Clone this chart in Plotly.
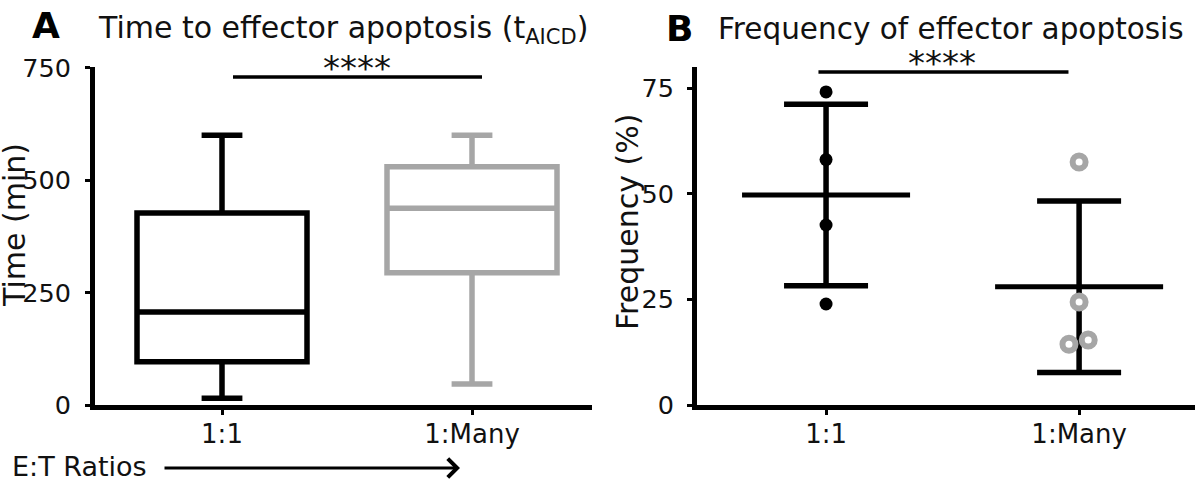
import plotly.graph_objects as go

# ---------------- data ----------------
categories = ["1:1", "1:Many"]

# Panel A: box summary (Time, min)
box_q1 = [96, 294]
box_median = [207, 438]
box_q3 = [427, 530]
box_low = [15, 47]
box_high = [600, 600]

# Panel B: frequency (%) per replicate
freq_11 = [74.1, 58.1, 42.6, 23.9]
freq_many = [57.5, 24.4, 14.4, 15.4]
jitter_many = [0.0, 0.0, -0.04, 0.036]
freq_mean = [49.7, 28.0]
freq_sd = [21.5, 20.3]

y_ticks_a = [0, 250, 500, 750]
y_ticks_b = [0, 25, 50, 75]
sig_label = "****"

# ---------------- style ----------------
FONT = "DejaVu Sans"
BLACK = "#000000"
TXT = "#111111"
GREY = "#a6a6a6"
colors = [BLACK, GREY]

W, H = 1200, 480


def px(x):
    return x / W


def py(y):
    return 1 - y / H


fig = go.Figure()

# Panel A boxes
for i, c in enumerate(categories):
    fig.add_trace(go.Box(
        x=[i], q1=[box_q1[i]], median=[box_median[i]], q3=[box_q3[i]],
        lowerfence=[box_low[i]], upperfence=[box_high[i]],
        width=0.68, whiskerwidth=0.24, boxpoints=False,
        line=dict(color=colors[i], width=5.5), fillcolor="white",
        xaxis="x", yaxis="y", showlegend=False, hoverinfo="skip",
    ))

# Panel B: mean lines + SD error bars
for i in range(2):
    fig.add_trace(go.Scatter(
        x=[i - 0.332, i + 0.332], y=[freq_mean[i], freq_mean[i]],
        mode="lines", line=dict(color=BLACK, width=5),
        xaxis="x2", yaxis="y2", showlegend=False, hoverinfo="skip",
    ))
    fig.add_trace(go.Scatter(
        x=[i], y=[freq_mean[i]], mode="lines",
        line=dict(color=BLACK, width=0),
        error_y=dict(type="data", array=[freq_sd[i]], visible=True,
                     width=42, thickness=5.5, color=BLACK),
        xaxis="x2", yaxis="y2", showlegend=False, hoverinfo="skip",
    ))

# Panel B points
fig.add_trace(go.Scatter(
    x=[0] * len(freq_11), y=freq_11, mode="markers",
    marker=dict(color=BLACK, size=13),
    xaxis="x2", yaxis="y2", showlegend=False, hoverinfo="skip",
))
fig.add_trace(go.Scatter(
    x=[1 + j for j in jitter_many], y=freq_many, mode="markers",
    marker=dict(color="white", size=13, line=dict(color=GREY, width=6)),
    xaxis="x2", yaxis="y2", showlegend=False, hoverinfo="skip",
))

axis_common = dict(
    showline=True, linewidth=5, linecolor=BLACK, ticks="outside",
    ticklen=5, tickwidth=3, tickcolor=BLACK, showgrid=False, zeroline=False,
    automargin=False,
)
xtickfont = dict(family=FONT, size=26, color=TXT)
ytickfont = dict(family=FONT, size=25.5, color=TXT)

y_dom = [py(405), py(67)]

fig.update_layout(
    template="none",
    width=W, height=H,
    margin=dict(l=0, r=0, t=0, b=0, pad=0),
    paper_bgcolor="white", plot_bgcolor="white",
    xaxis=dict(domain=[px(95), px(592)], range=[-0.508, 1.48],
               tickvals=[0, 1], ticktext=categories, anchor="y",
               ticklabelstandoff=-3, tickfont=xtickfont, **axis_common),
    yaxis=dict(domain=y_dom, range=[0, 752],
               tickvals=y_ticks_a, anchor="x", ticklabelstandoff=9,
               tickfont=ytickfont, **axis_common),
    xaxis2=dict(domain=[px(697), px(1195)], range=[-0.51, 1.458],
                tickvals=[0, 1], ticktext=categories, anchor="y2",
                ticklabelstandoff=-3, tickfont=xtickfont, **axis_common),
    yaxis2=dict(domain=y_dom, range=[0, 80],
                tickvals=y_ticks_b, anchor="x2", ticklabelstandoff=8,
                tickfont=ytickfont, **axis_common),
    font=dict(family=FONT, color=TXT),
    showlegend=False,
)

# y-axis titles
fig.add_annotation(xref="paper", yref="paper", x=px(14), y=py(225),
                   text="Time (min)", textangle=-90, showarrow=False,
                   xanchor="center", yanchor="middle",
                   font=dict(family=FONT, size=30, color=TXT))
fig.add_annotation(xref="paper", yref="paper", x=px(627), y=py(222),
                   text="Frequency (%)", textangle=-90, showarrow=False,
                   xanchor="center", yanchor="middle",
                   font=dict(family=FONT, size=30, color=TXT))

# significance bars
fig.add_shape(type="line", xref="x", yref="y", x0=0.044, x1=1.04, y0=730, y1=730,
              line=dict(color=BLACK, width=3.5))
fig.add_annotation(xref="x", yref="y", x=0.54, y=730, text=sig_label, showarrow=False,
                   yanchor="middle", yshift=9, font=dict(family=FONT, size=34, color=TXT))
fig.add_shape(type="line", xref="x2", yref="y2", x0=-0.03, x1=0.958, y0=78.8, y1=78.8,
              line=dict(color=BLACK, width=3.5))
fig.add_annotation(xref="x2", yref="y2", x=0.46, y=78.8, text=sig_label, showarrow=False,
                   yanchor="middle", yshift=9, font=dict(family=FONT, size=34, color=TXT))

# panel letters and titles
fig.add_annotation(xref="paper", yref="paper", x=px(30), y=py(25), text="<b>A</b>",
                   showarrow=False, xanchor="left", yanchor="middle",
                   font=dict(family=FONT, size=36, color=BLACK))
fig.add_annotation(xref="paper", yref="paper", x=px(96), y=py(29),
                   text="Time to effector apoptosis (t<sub>AICD</sub>)",
                   showarrow=False, xanchor="left", yanchor="middle",
                   font=dict(family=FONT, size=30, color=TXT))
fig.add_annotation(xref="paper", yref="paper", x=px(664), y=py(28), text="<b>B</b>",
                   showarrow=False, xanchor="left", yanchor="middle",
                   font=dict(family=FONT, size=36, color=BLACK))
fig.add_annotation(xref="paper", yref="paper", x=px(716), y=py(29),
                   text="Frequency of effector apoptosis",
                   showarrow=False, xanchor="left", yanchor="middle",
                   font=dict(family=FONT, size=29.5, color=TXT))

# E:T ratios arrow
fig.add_annotation(xref="paper", yref="paper", x=px(10), y=py(466),
                   text="E:T Ratios", showarrow=False, xanchor="left", yanchor="middle",
                   font=dict(family=FONT, size=27, color=TXT))
fig.add_annotation(xref="paper", yref="paper", axref="pixel", ayref="pixel",
                   x=px(460), y=py(468), ax=-297, ay=0,
                   text="", showarrow=True, arrowhead=4, arrowsize=1.2, arrowwidth=3,
                   arrowcolor=BLACK)

# remove the default 8px page margin so the 1200x480 figure fills the window
fig.write_html("out.html",
               config={"displayModeBar": False},
               post_script="document.body.style.margin='0';document.body.style.overflow='hidden';")
